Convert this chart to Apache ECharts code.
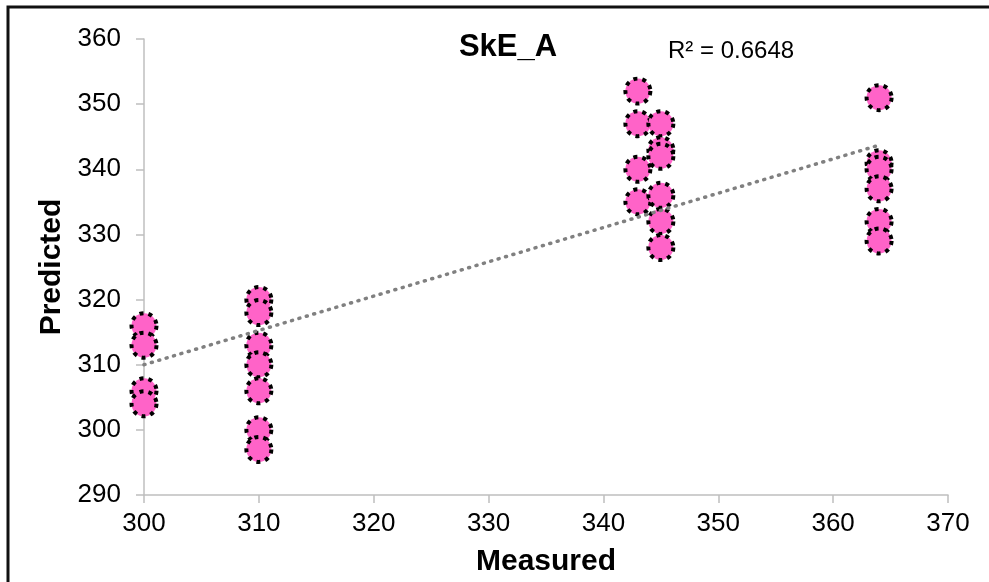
<!DOCTYPE html>
<html>
<head>
<meta charset="utf-8">
<script src="https://cdn.jsdelivr.net/npm/echarts@6/dist/echarts.min.js"></script>
<style>
  html, body { margin: 0; padding: 0; background: #fff; }
  #fig_ske_a { width: 989px; height: 582px; }
</style>
</head>
<body>
<div id="fig_ske_a"></div>
<script>
// measured vs predicted values
var measured = [300, 300, 300, 300,
    310, 310, 310, 310, 310, 310, 310,
    343, 343, 343, 343,
    345, 345, 345, 345, 345, 345,
    364, 364, 364, 364, 364, 364];
var predicted = [316, 313, 306, 304,
    320, 318, 313, 310, 306, 300, 297,
    352, 347, 340, 335,
    347, 343, 342, 336, 332, 328,
    351, 341, 340, 337, 332, 329];

// linear trendline end values (Excel) and its R²
var trendX = [300, 364];
var trendY = [310.0, 343.7];
var rSquared = '0.6648';

var xTicks = [300, 310, 320, 330, 340, 350, 360, 370];
var yTicks = [290, 300, 310, 320, 330, 340, 350, 360];

var points = [];
for (let i = 0; i < measured.length; i++) {
    points.push([measured[i], predicted[i]]);
}
var trend = [];
for (let i = 0; i < trendX.length; i++) {
    trend.push([trendX[i], trendY[i]]);
}

var axisColor = '#bfbfbf';
var font = 'Liberation Sans, Arial, sans-serif';

var option = {
    animation: false,
    backgroundColor: '#fff',
    grid: {
        left: 144,
        right: 41,
        top: 39,
        bottom: 87
    },
    title: {
        text: 'SkE_A',
        left: 503,
        top: 27,
        textAlign: 'center',
        textStyle: {
            fontFamily: font,
            fontSize: 31,
            fontWeight: 'bold',
            color: '#000'
        }
    },
    graphic: [
        {
            type: 'rect',
            shape: { x: 8, y: 7, width: 1000, height: 600 },
            style: { fill: 'none', stroke: '#111', lineWidth: 3 },
            silent: true
        },
        {
            type: 'text',
            left: 668,
            top: 39,
            style: {
                text: 'R² = ' + rSquared,
                font: '24px ' + font,
                fill: '#000'
            }
        }
    ],
    xAxis: {
        type: 'value',
        min: xTicks[0],
        max: xTicks[xTicks.length - 1],
        interval: 10,
        name: 'Measured',
        nameLocation: 'middle',
        nameGap: 52,
        nameTextStyle: {
            fontFamily: font,
            fontSize: 30,
            fontWeight: 'bold',
            color: '#000'
        },
        axisLine: { show: true, lineStyle: { color: axisColor, width: 1.5 } },
        axisTick: { show: true, length: 8, lineStyle: { color: axisColor, width: 1.5 } },
        axisLabel: {
            margin: 16,
            fontFamily: font,
            fontSize: 26,
            color: '#000'
        },
        splitLine: { show: false }
    },
    yAxis: {
        type: 'value',
        min: yTicks[0],
        max: yTicks[yTicks.length - 1],
        interval: 10,
        name: 'Predicted',
        nameLocation: 'middle',
        nameGap: 75,
        nameRotate: 90,
        nameTextStyle: {
            fontFamily: font,
            fontSize: 30,
            fontWeight: 'bold',
            color: '#000'
        },
        axisLine: { show: true, lineStyle: { color: axisColor, width: 1.5 } },
        axisTick: { show: true, length: 8, lineStyle: { color: axisColor, width: 1.5 } },
        axisLabel: {
            margin: 23,
            fontFamily: font,
            fontSize: 26,
            color: '#000'
        },
        splitLine: { show: false }
    },
    series: [
        {
            name: 'SkE_A',
            type: 'scatter',
            data: points,
            symbol: 'circle',
            symbolSize: 25,
            itemStyle: {
                color: '#ff63c8',
                opacity: 1,
                borderColor: '#000',
                borderWidth: 4,
                borderType: [4, 5]
            },
            z: 2
        },
        {
            name: 'Linear (SkE_A)',
            type: 'line',
            data: trend,
            showSymbol: false,
            symbol: 'none',
            lineStyle: {
                color: '#808080',
                width: 3.5,
                type: [1, 6.7],
                cap: 'round'
            },
            z: 3
        }
    ]
};

var chart = echarts.init(document.getElementById('fig_ske_a'));
chart.setOption(option);
</script>
</body>
</html>
